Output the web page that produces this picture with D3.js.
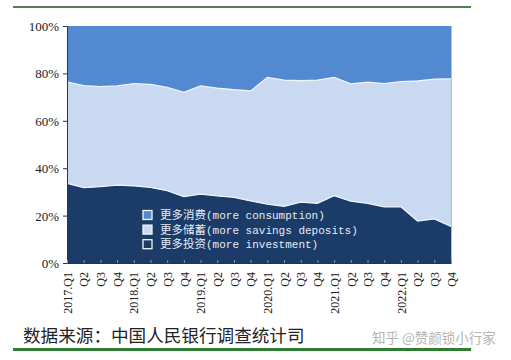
<!DOCTYPE html>
<html>
<head>
<meta charset="utf-8">
<script src="https://cdn.jsdelivr.net/npm/d3@7/dist/d3.min.js"></script>
<style>
html,body{margin:0;padding:0;background:#fff;}
svg{display:block;}
</style>
</head>
<body>
<svg id="chart" width="511" height="360"></svg>
<script>
const quarters = ["2017.Q1","2017.Q2","2017.Q3","2017.Q4","2018.Q1","2018.Q2","2018.Q3","2018.Q4",
  "2019.Q1","2019.Q2","2019.Q3","2019.Q4","2020.Q1","2020.Q2","2020.Q3","2020.Q4",
  "2021.Q1","2021.Q2","2021.Q3","2021.Q4","2022.Q1","2022.Q2","2022.Q3","2022.Q4"];
const tickLabels = ["2017.Q1","Q2","Q3","Q4","2018.Q1","Q2","Q3","Q4",
  "2019.Q1","Q2","Q3","Q4","2020.Q1","Q2","Q3","Q4",
  "2021.Q1","Q2","Q3","Q4","2022.Q1","Q2","Q3","Q4"];
// 更多投资 (more investment)
const investment = [33.6,31.8,32.2,32.9,32.6,31.9,30.5,28.0,29.1,28.3,27.7,26.2,24.8,23.9,25.7,25.2,28.4,26.1,25.2,23.7,23.7,17.7,18.6,15.4];
// 更多储蓄 (more savings deposits)
const savings = [42.8,43.0,42.2,41.8,43.1,43.5,43.6,44.0,45.6,45.5,45.4,46.4,53.5,53.3,51.2,52.0,49.9,49.5,51.1,52.0,52.8,59.1,59.0,62.3];
// 更多消费 (more consumption)
const consumption = [23.6,25.2,25.6,25.3,24.3,24.6,25.9,28.0,25.3,26.2,26.9,27.4,21.7,22.8,23.1,22.8,21.7,24.4,23.7,24.3,23.5,23.2,22.4,22.3];
const yTicks = [0,20,40,60,80,100];
const seriesKeys = ["investment","savings","consumption"];
const legendItems = [
  {key:"consumption", cn:"更多消费", en:"(more consumption)"},
  {key:"savings", cn:"更多储蓄", en:"(more savings deposits)"},
  {key:"investment", cn:"更多投资", en:"(more investment)"}
];
const colors = {consumption:"#5289d1", savings:"#c9d9f1", investment:"#1b3b68"};

const rows = quarters.map((q,i)=>({q, investment:investment[i], savings:savings[i], consumption:consumption[i]}));

const svg = d3.select("#chart");
const M = {left:67, right:451, top:26, bottom:263};

const x = d3.scalePoint().domain(quarters).range([M.left, M.right]);
const y = d3.scaleLinear().domain([0,100]).range([M.bottom, M.top]);

// top green rule
svg.append("line").attr("x1",13).attr("x2",471).attr("y1",7).attr("y2",7)
  .attr("stroke","#4f7f4c").attr("stroke-width",2);

const stacked = d3.stack().keys(seriesKeys)(rows);
const area = d3.area().x(d=>x(d.data.q)).y0(d=>y(d[0])).y1(d=>y(d[1]));
svg.append("g").selectAll("path").data(stacked).join("path")
  .attr("d", area).attr("fill", d=>colors[d.key]);

// light separators between areas
const line = d3.line().x(d=>x(d.data.q)).y(d=>y(d[1]));
svg.append("g").selectAll("path").data(stacked.slice(0,2)).join("path")
  .attr("d", line).attr("fill","none").attr("stroke","#eef4fc").attr("stroke-width",1.3);

// right border
svg.append("line").attr("x1",M.right+0.5).attr("x2",M.right+0.5).attr("y1",M.top).attr("y2",M.bottom)
  .attr("stroke","#b8bcc4").attr("stroke-width",1);

// y axis
const yAxis = svg.append("g").attr("transform",`translate(${M.left},0)`)
  .call(d3.axisLeft(y).tickValues(yTicks).tickFormat(d=>d+"%").tickSize(4).tickSizeOuter(0));
yAxis.select(".domain").attr("stroke","#333");
yAxis.selectAll(".tick line").attr("stroke","#333");
yAxis.selectAll("text").attr("font-family","'Liberation Serif', serif").attr("font-size",13)
  .attr("fill","#222").attr("x",-8).attr("dy","0.35em");

// x axis
const xAxis = svg.append("g").attr("transform",`translate(0,${M.bottom})`)
  .call(d3.axisBottom(x).tickFormat((d,i)=>tickLabels[i]).tickSize(-3).tickSizeOuter(0));
xAxis.select(".domain").attr("stroke","#333");
xAxis.selectAll(".tick line").attr("stroke","#8899b0");
xAxis.selectAll("text").attr("font-family","'Liberation Serif', serif").attr("font-size",12)
  .attr("fill","#222").attr("transform","rotate(-90)").attr("text-anchor","end")
  .attr("x",-9).attr("y",0).attr("dy","0.35em");

// legend
const lg = svg.append("g");
legendItems.forEach((it,i)=>{
  const cy = 215 + i*14.6;
  lg.append("rect").attr("x",143).attr("y",cy-4.5).attr("width",9).attr("height",9)
    .attr("fill",colors[it.key]).attr("stroke","#f2f5fa").attr("stroke-width",1.3);
  const t = lg.append("text").attr("x",160).attr("y",cy+4.2).attr("fill","#e4ebf5");
  t.append("tspan").attr("font-family","'Noto Sans CJK SC', sans-serif").attr("font-size",11.5).text(it.cn);
  t.append("tspan").attr("font-family","'Liberation Mono', 'DejaVu Sans Mono', monospace").attr("font-size",11).text(it.en);
});

// footer
svg.append("text").attr("x",23).attr("y",342).attr("font-family","'Noto Sans CJK SC', sans-serif")
  .attr("font-size",17.6).attr("fill","#222").text("数据来源：中国人民银行调查统计司");
svg.append("text").attr("x",372).attr("y",343).attr("font-family","'Noto Sans CJK SC', sans-serif")
  .attr("font-size",13.5).attr("fill","#b4b4b4").text("知乎 @赞颜锁小行家");
svg.append("line").attr("x1",13).attr("x2",471).attr("y1",349.5).attr("y2",349.5)
  .attr("stroke","#2e7d32").attr("stroke-width",3);
</script>
</body>
</html>
